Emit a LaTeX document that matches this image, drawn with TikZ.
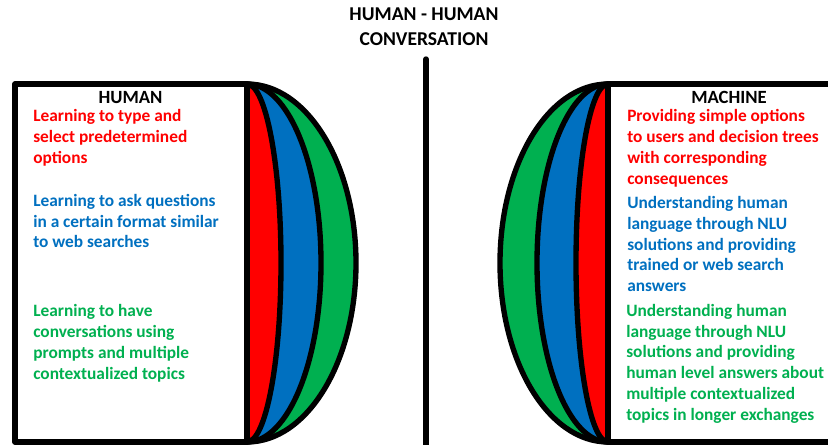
\documentclass[tikz,border=0pt]{standalone}
\usepackage{fontspec}
\setmainfont{Carlito}
\definecolor{ored}{RGB}{255,0,0}
\definecolor{oblue}{RGB}{0,112,192}
\definecolor{ogreen}{RGB}{0,176,80}
\newcommand\domeshape[4]{(#1,{#2-#4}) .. controls ({#1+0.5523*#3},{#2-#4}) and ({#1+#3},{#2-0.5523*#4}) .. ({#1+#3},#2) .. controls ({#1+#3},{#2+0.5523*#4}) and ({#1+0.5523*#3},{#2+#4}) .. (#1,{#2+#4}) -- cycle}
\tikzset{
  thick line/.style={line width=4pt, draw=black, line join=round},
  txt/.style={font=\fontsize{13}{15.6}\selectfont\bfseries, align=left, inner sep=0pt, anchor=north west},
  head/.style={font=\fontsize{14}{16}\selectfont\bfseries, inner sep=0pt, anchor=base},
}
\begin{document}
\begin{tikzpicture}[x=0.75pt,y=-0.75pt]
\useasboundingbox (0,0) rectangle (828,445);
\begin{scope}
\clip (0,0) rectangle (828,445);
% left dome
\path[thick line, fill=ogreen] \domeshape{247}{263}{109}{179};
\path[thick line, fill=oblue] \domeshape{247}{263}{74}{179};
\path[thick line, fill=ored] \domeshape{247}{263}{34}{179};
\draw[thick line, fill=white] (15,84) rectangle (247,442);
% right dome
\path[thick line, fill=ogreen] \domeshape{608}{263}{-108}{179};
\path[thick line, fill=oblue] \domeshape{608}{263}{-71}{179};
\path[thick line, fill=ored] \domeshape{608}{263}{-32}{179};
\draw[thick line, fill=white] (608,84) rectangle (850,442);
% center divider
\coordinate (divtop) at (426,59);
\coordinate (divbot) at (426,450);
\draw[line width=4pt, line cap=round] (divtop) -- (divbot);
\end{scope}
% title
\node[font=\fontsize{14.7}{18.75}\selectfont\bfseries, align=center, inner sep=0pt, anchor=north] (title) at (424,2.5) {\strut HUMAN - HUMAN\\\strut CONVERSATION};
% headers
\node[head] (hhead) at (130.5,103.3) {HUMAN};
\node[head] (mhead) at (729,103.3) {MACHINE};
% left texts
\node[txt, text=ored] (lred) at (33,{121.7-14.56}) {\strut Learning to type and\\\strut select predetermined\\\strut options};
\node[txt, text=oblue] (lblue) at (33,{206-14.56}) {\strut Learning to ask questions\\\strut in a certain format similar\\\strut to web searches};
\node[txt, text=ogreen] (lgreen) at (33,{316.7-14.56}) {\strut Learning to have\\\strut conversations using\\\strut prompts and multiple\\\strut contextualized topics};
% right texts
\node[txt, text=ored] (rred) at (627,{121.7-14.56}) {\strut Providing simple options\\\strut to users and decision trees\\\strut with corresponding\\\strut consequences};
\node[txt, text=oblue] (rblue) at (627,{208.3-14.56}) {\strut Understanding human\\\strut language through NLU\\\strut solutions and providing\\\strut trained or web search\\\strut answers};
\node[txt, text=ogreen] (rgreen) at (626,{316-14.56}) {\strut Understanding human\\\strut language through NLU\\\strut solutions and providing\\\strut human level answers about\\\strut multiple contextualized\\\strut topics in longer exchanges};
\end{tikzpicture}
\end{document}
